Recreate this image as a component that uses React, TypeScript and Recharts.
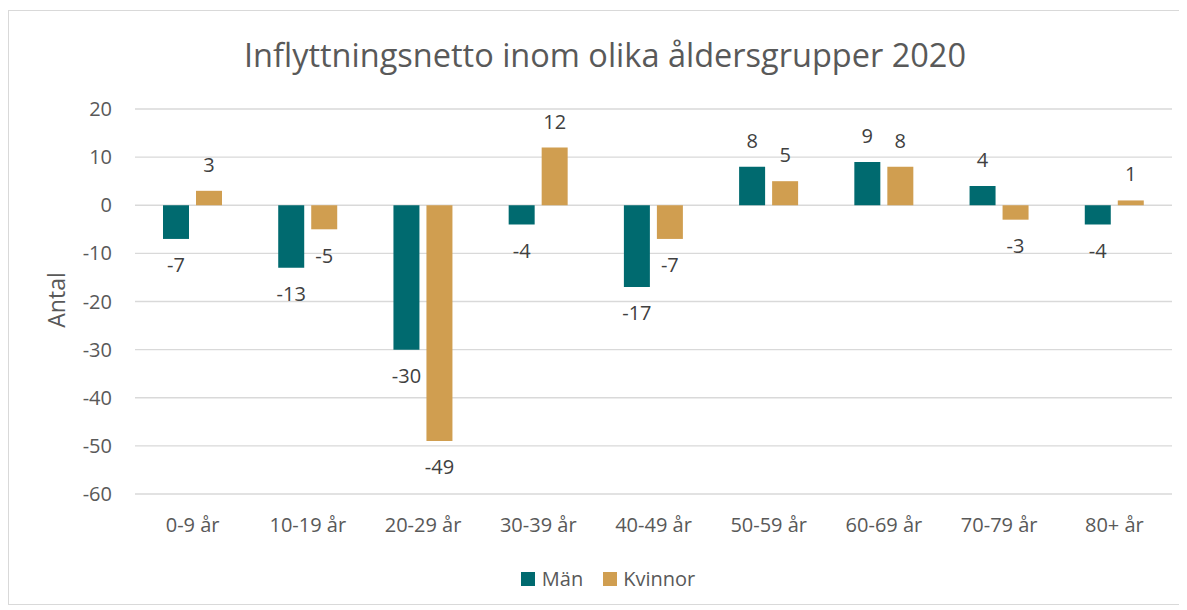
import React from 'react';
import { BarChart, Bar, XAxis, YAxis, CartesianGrid, LabelList } from 'recharts';

const categories = ['0-9 år', '10-19 år', '20-29 år', '30-39 år', '40-49 år', '50-59 år', '60-69 år', '70-79 år', '80+ år'];
const manValues = [-7, -13, -30, -4, -17, 8, 9, 4, -4];
const kvinnorValues = [3, -5, -49, 12, -7, 5, 8, -3, 1];
const yTicks = [20, 10, 0, -10, -20, -30, -40, -50, -60];

const TEAL = '#006A6F';
const GOLD = '#D09E50';
const FONT = '"Open Sans", sans-serif';

const data = categories.map((c, i) => ({ cat: c, man: manValues[i], kvinnor: kvinnorValues[i] }));

export default function App() {
  return (
    <div style={{ position: 'relative', width: 1172, height: 593, border: '1px solid #D9D9D9', marginTop: 2, fontFamily: FONT, background: '#fff' }}>
      <div style={{ position: 'absolute', left: 10, width: 1172, top: 21, textAlign: 'center', fontSize: 32.5, color: '#595959', whiteSpace: 'nowrap' }}>
        Inflyttningsnetto inom olika åldersgrupper 2020
      </div>
      <div style={{ position: 'absolute', left: 56 - 9 - 50, top: 300 - 11 - 15, width: 100, height: 30, textAlign: 'center', fontSize: 23, color: '#595959', transform: 'rotate(-90deg)', lineHeight: '30px' }}>
        Antal
      </div>
      <BarChart width={1172} height={593} data={data} margin={{ top: 98, right: 9, bottom: 0, left: 0 }} barGap={7} style={{ fontFamily: FONT }}>
        <CartesianGrid vertical={false} stroke="#D9D9D9" strokeWidth={1.3} />
        <XAxis dataKey="cat" interval={0} axisLine={false} tickLine={false} tickSize={6} tickMargin={18} height={110} tick={{ fontSize: 20, fill: '#595959' }} />
        <YAxis type="number" domain={[-60, 20]} ticks={yTicks} interval={0} axisLine={false} tickLine={false} width={126} tickSize={6} tickMargin={17} tick={{ fontSize: 20, fill: '#595959' }} />
        <Bar dataKey="man" fill={TEAL} barSize={26} isAnimationActive={false}>
          <LabelList dataKey="man" position="top" offset={19} fill="#404040" fontSize={20} />
        </Bar>
        <Bar dataKey="kvinnor" fill={GOLD} barSize={26} isAnimationActive={false}>
          <LabelList dataKey="kvinnor" position="top" offset={19} fill="#404040" fontSize={20} />
        </Bar>
      </BarChart>
      <div style={{ position: 'absolute', top: 554, left: 13, width: 1172, display: 'flex', justifyContent: 'center', alignItems: 'center', fontSize: 20, color: '#595959' }}>
        <div style={{ display: 'flex', alignItems: 'center', marginRight: 20 }}>
          <span style={{ width: 14, height: 14, background: TEAL, display: 'inline-block', marginRight: 7 }} />
          <span>Män</span>
        </div>
        <div style={{ display: 'flex', alignItems: 'center' }}>
          <span style={{ width: 14, height: 14, background: GOLD, display: 'inline-block', marginRight: 6 }} />
          <span>Kvinnor</span>
        </div>
      </div>
    </div>
  );
}
